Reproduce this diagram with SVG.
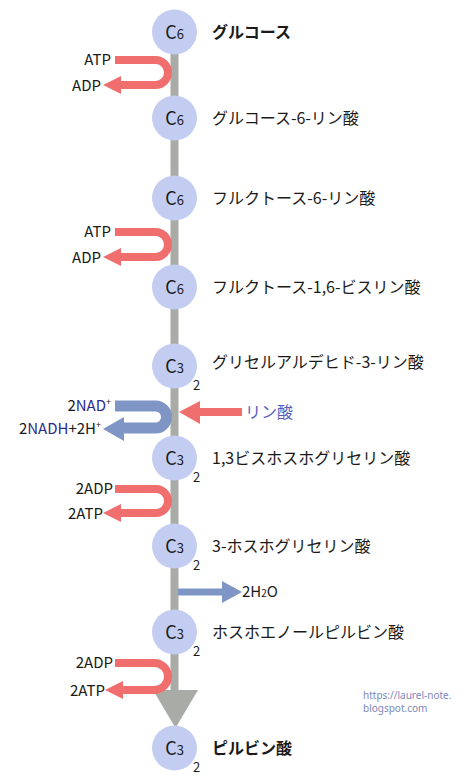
<svg xmlns="http://www.w3.org/2000/svg" width="474" height="776" viewBox="0 0 474 776">
<style>
text{font-family:"Noto Sans CJK JP","Noto Sans",sans-serif;fill:#1a1a1a}
.node{fill:#c3cdf1}
.cl{font-size:18px;text-anchor:middle}
.cd{font-size:13px}
.sub{font-size:13px}
.lbl{font-size:16px}
.b{font-weight:bold}
.side{font-size:15px;text-anchor:end}
.red{fill:none;stroke:#f06e6e;stroke-width:8}
.redh{fill:#f06e6e}
.blu{fill:none;stroke:#7f95c5;stroke-width:11}
.bluh{fill:#7f95c5}
.nad{fill:#2c2c8c}
.pi{fill:#5a5cc0;font-size:16px}
.wm{font-family:"Noto Sans","Liberation Sans",sans-serif;font-size:10px;fill:#7a88bb}
</style>
<rect width="474" height="776" fill="#ffffff"/>
<g id="connectors">
  <line x1="174.5" y1="32" x2="174.5" y2="692" stroke="#a9aba6" stroke-width="8"/>
  <polygon points="153,690 198,690 175.5,728" fill="#a9aba6"/>
  <path class="red" d="M115,60 H155.5 A12.5,12.5 0 0 1 155.5,85 H119"/>
  <polygon class="redh" points="121,76 103,85 121,94"/>
  <path class="red" d="M115,232 H155.5 A12.5,12.5 0 0 1 155.5,257 H119"/>
  <polygon class="redh" points="121,248 103,257 121,266"/>
  <path class="blu" d="M115,406 H155.5 A11,11 0 0 1 155.5,428 H120"/>
  <polygon class="bluh" points="124,417 103,429 124,441"/>
  <line x1="242" y1="412" x2="197" y2="412" stroke="#f06e6e" stroke-width="8"/>
  <polygon class="redh" points="200,401 179,412 200,424"/>
  <path class="red" d="M115,489 H156 A12,12 0 0 1 156,513 H119"/>
  <polygon class="redh" points="121,504 103,513 121,522"/>
  <line x1="178" y1="592" x2="224" y2="592" stroke="#7f95c5" stroke-width="7"/>
  <polygon class="bluh" points="222,581 242,592 222,603"/>
  <path class="red" d="M115,663 H154.5 A13.5,13.5 0 0 1 154.5,690 H121"/>
  <polygon class="redh" points="123,681 105,690 123,699"/>
</g>
<g id="side-labels">
  <text class="side" x="111" y="65">ATP</text>
  <text class="side" x="101" y="91">ADP</text>
  <text class="side" x="111" y="237">ATP</text>
  <text class="side" x="101" y="263">ADP</text>
  <text class="side" x="111" y="411">2<tspan class="nad">NAD</tspan><tspan font-size="9" dy="-6">+</tspan></text>
  <text class="side" x="101" y="434">2<tspan class="nad">NADH</tspan>+2H<tspan font-size="9" dy="-6">+</tspan></text>
  <text class="pi" x="245" y="418">リン酸</text>
  <text class="side" x="113" y="494">2ADP</text>
  <text class="side" x="103" y="519">2ATP</text>
  <text x="242" y="597" font-size="15">2H<tspan font-size="10">2</tspan>O</text>
  <text class="side" x="113" y="668">2ADP</text>
  <text class="side" x="105" y="696">2ATP</text>
</g>
<g id="n1"><circle class="node" cx="174.5" cy="32" r="22.5"/><text class="cl" x="174.5" y="39">C<tspan class="cd">6</tspan></text><text class="lbl b" x="212" y="38">グルコース</text></g>
<g id="n2"><circle class="node" cx="174.5" cy="118" r="22.5"/><text class="cl" x="174.5" y="125">C<tspan class="cd">6</tspan></text><text class="lbl" x="212" y="124">グルコース-6-リン酸</text></g>
<g id="n3"><circle class="node" cx="174.5" cy="198" r="22.5"/><text class="cl" x="174.5" y="205">C<tspan class="cd">6</tspan></text><text class="lbl" x="212" y="204">フルクトース-6-リン酸</text></g>
<g id="n4"><circle class="node" cx="174.5" cy="287" r="22.5"/><text class="cl" x="174.5" y="294">C<tspan class="cd">6</tspan></text><text class="lbl" x="212" y="293">フルクトース-1,6-ビスリン酸</text></g>
<g id="n5"><circle class="node" cx="174.5" cy="366" r="22.5"/><text class="cl" x="174.5" y="373">C<tspan class="cd">3</tspan></text><text class="sub" x="193" y="390">2</text><text class="lbl" x="212" y="368">グリセルアルデヒド-3-リン酸</text></g>
<g id="n6"><circle class="node" cx="174.5" cy="458" r="22.5"/><text class="cl" x="174.5" y="465">C<tspan class="cd">3</tspan></text><text class="sub" x="193" y="482">2</text><text class="lbl" x="212" y="464">1,3ビスホスホグリセリン酸</text></g>
<g id="n7"><circle class="node" cx="174.5" cy="546" r="22.5"/><text class="cl" x="174.5" y="553">C<tspan class="cd">3</tspan></text><text class="sub" x="193" y="570">2</text><text class="lbl" x="212" y="552">3-ホスホグリセリン酸</text></g>
<g id="n8"><circle class="node" cx="174.5" cy="632" r="22.5"/><text class="cl" x="174.5" y="639">C<tspan class="cd">3</tspan></text><text class="sub" x="193" y="656">2</text><text class="lbl" x="212" y="638">ホスホエノールピルビン酸</text></g>
<g id="n9"><circle class="node" cx="174.5" cy="748" r="22.5"/><text class="cl" x="174.5" y="755">C<tspan class="cd">3</tspan></text><text class="sub" x="193" y="772">2</text><text class="lbl b" x="212" y="754">ピルビン酸</text></g>
<g id="watermark">
  <text class="wm" x="363" y="699">https://laurel-note.</text>
  <text class="wm" x="363" y="712">blogspot.com</text>
</g>
</svg>
